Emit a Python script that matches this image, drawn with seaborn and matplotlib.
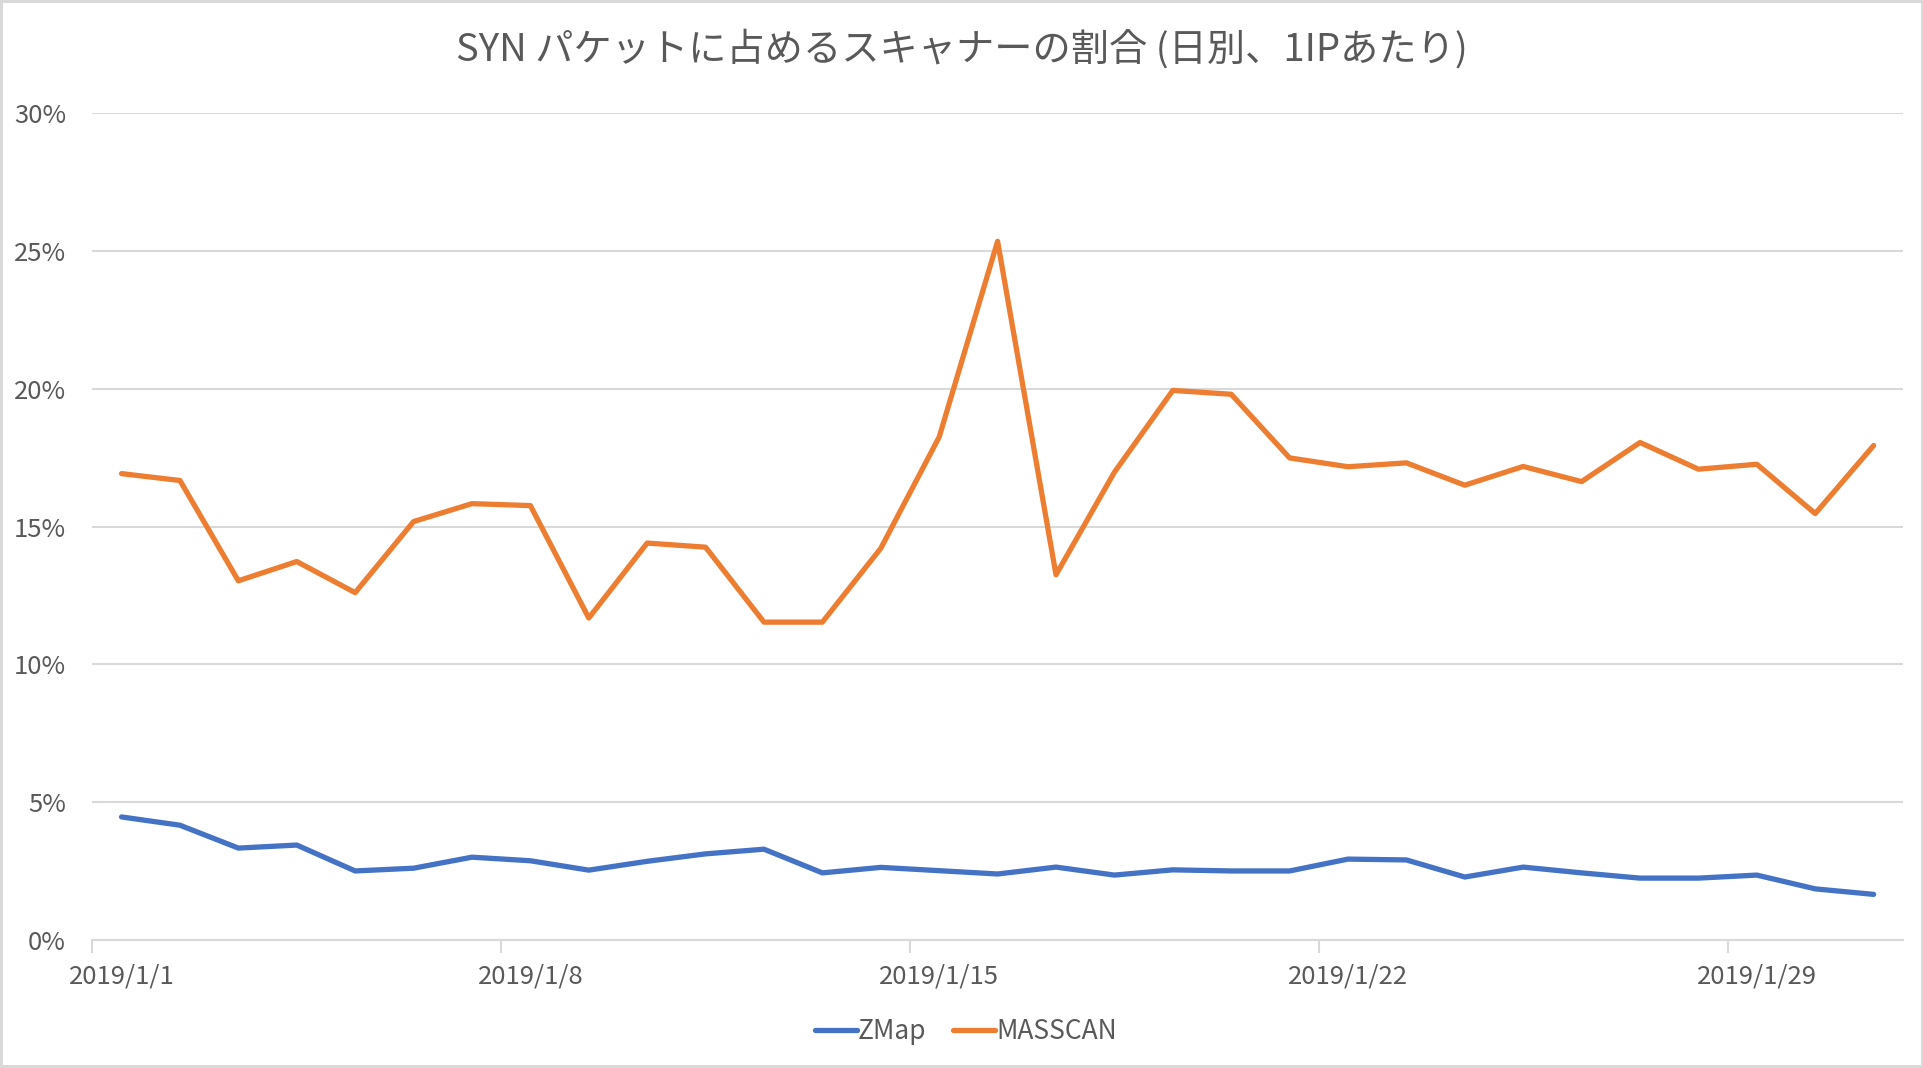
import numpy as np
import pandas as pd
import seaborn as sns
import matplotlib.pyplot as plt
from matplotlib.ticker import FuncFormatter, FixedLocator

# daily share of SYN packets per scanner, Jan 2019 (percent)
days = [f"2019/1/{d}" for d in range(1, 32)]
zmap = [4.46, 4.16, 3.33, 3.44, 2.50, 2.60, 3.00, 2.87, 2.53, 2.85, 3.12, 3.29, 2.43, 2.63, 2.51,
        2.39, 2.64, 2.35, 2.54, 2.50, 2.50, 2.93, 2.90, 2.28, 2.64, 2.43, 2.24, 2.24, 2.35, 1.85, 1.65]
masscan = [16.92, 16.67, 13.03, 13.73, 12.60, 15.18, 15.83, 15.76, 11.68, 14.40, 14.25, 11.53, 11.53, 14.21, 18.25,
           25.35, 13.25, 16.97, 19.94, 19.80, 17.49, 17.17, 17.31, 16.50, 17.18, 16.63, 18.05, 17.08, 17.26, 15.47, 17.94]
series = ["ZMap", "MASSCAN"]
colors = ["#4472C4", "#ED7D31"]

df = pd.DataFrame({
    "day": list(range(len(days))) * 2,
    "value": zmap + masscan,
    "series": [series[0]] * len(days) + [series[1]] * len(days),
})

sns.set_theme(style="white")
plt.rcParams['font.family'] = ['Noto Sans CJK JP', 'DejaVu Sans']

fig = plt.figure(figsize=(19.24, 10.68), dpi=100)
fig.patch.set_edgecolor("#d9d9d9")
fig.patch.set_linewidth(3)
ax = fig.add_axes([0.048, 0.120, 0.941, 0.774])

sns.lineplot(data=df, x="day", y="value", hue="series", palette=colors, hue_order=series,
             linewidth=3.8, ax=ax, legend=True)
for ln in ax.get_lines():
    ln.set_solid_joinstyle("round")
    ln.set_solid_capstyle("round")

ax.set_xlim(-0.5, len(days) - 0.5)
ax.set_ylim(0, 30)
ax.set_yticks(np.arange(0, 31, 5))
ax.yaxis.set_major_formatter(FuncFormatter(lambda v, p: f"{v:.0f}%"))
ax.grid(axis="y", color="#d9d9d9", linewidth=1.5)
ax.grid(axis="x", visible=False)

label_pos = list(range(0, len(days), 7))
ax.set_xticks(label_pos)
ax.set_xticklabels([days[i] for i in label_pos])
ax.xaxis.set_minor_locator(FixedLocator([i - 0.5 for i in label_pos]))
ax.tick_params(axis="x", which="major", length=0, pad=17, labelsize=18.5, colors="#595959")
ax.tick_params(axis="x", which="minor", length=9, width=1.5, color="#d9d9d9", bottom=True)
ax.tick_params(axis="y", length=0, pad=19, labelsize=18.5, colors="#595959")

for s in ["top", "right", "left"]:
    ax.spines[s].set_visible(False)
ax.spines["bottom"].set_color("#d9d9d9")
ax.spines["bottom"].set_linewidth(1.5)
ax.set_xlabel("")
ax.set_ylabel("")

handles, labels = ax.get_legend_handles_labels()
ax.legend(handles, labels, loc="center", bbox_to_anchor=(0.502, 0.034), bbox_transform=fig.transFigure,
          ncol=2, frameon=False, fontsize=19, handlelength=1.6, handletextpad=0.05, columnspacing=1.0,
          labelcolor="#595959")

fig.suptitle("SYN パケットに占めるスキャナーの割合 (日別、1IPあたり)", x=0.5, y=0.953, va="center",
             fontsize=27.5, color="#595959")

fig.savefig("out.png", dpi=100)
